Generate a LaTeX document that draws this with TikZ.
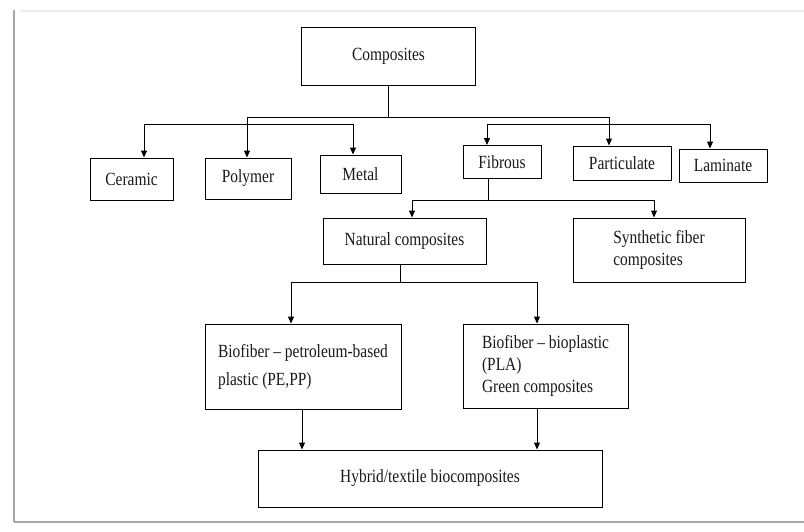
\documentclass[tikz,border=0pt]{standalone}
\usepackage{fontspec}
\setmainfont{Liberation Serif}[FakeStretch=0.83]
\usetikzlibrary{arrows.meta,calc}
\definecolor{txt}{rgb}{0.1,0.1,0.12}
\begin{document}
\begin{tikzpicture}[x=1pt,y=-1pt,
  box/.style={draw=black, line width=1pt, rectangle, inner sep=0pt, text=txt,
    font=\fontsize{18.6}{22}\selectfont},
  arr/.style={line width=1pt, -{Triangle[length=7pt,width=6pt]}},
  ln/.style={line width=1pt}]
\useasboundingbox (0,0) rectangle (804,531);
\fill[white] (0,0) rectangle (804,531);
% frame
\draw[gray!15, line width=1.5pt] (20,11) -- (804,11);
\draw[gray!70, line width=1.5pt] (14,10) -- (14,522);
\draw[gray!70, line width=2.5pt] (14,522) -- (804,522);
% nodes
\node[box, minimum width=174pt, minimum height=58pt] (comp) at (388.5,56) {Composites};
\node[box, minimum width=83pt, minimum height=42pt] (cer) at (131.5,179) {Ceramic};
\node[box, minimum width=86pt, minimum height=41pt] (poly) at (248,178.5) {Polymer};
\node[box, minimum width=81pt, minimum height=38pt] (metal) at (360.5,174) {Metal};
\node[box, minimum width=78pt, minimum height=33pt] (fib) at (502,162) {Fibrous};
\node[box, minimum width=98pt, minimum height=34pt] (part) at (622,163) {Particulate};
\node[box, minimum width=88pt, minimum height=33pt] (lam) at (723,165.5) {Laminate};
\node[box, minimum width=163pt, minimum height=46pt] (nat) at (404.5,241) {Natural composites};
\node[box, minimum width=172pt, minimum height=64pt, align=left] (syn) at (659,250) {Synthetic fiber\\composites};
\node[box, minimum width=196pt, minimum height=85pt, align=left,
  font=\fontsize{18.6}{28}\selectfont] (bio1) at (303,366.5) {Biofiber -- petroleum-based\\plastic (PE,PP)};
\node[box, minimum width=165pt, minimum height=84pt, align=left] (bio2) at (545.5,366) {Biofiber -- bioplastic\\(PLA)\\Green composites};
\node[box, minimum width=344pt, minimum height=57pt] (hyb) at (430,478.5) {Hybrid/textile biocomposites};
% connectors
\coordinate (j0) at (388.5,117);
\coordinate (gL) at (247,124);
\coordinate (gR) at (609,124);
\draw[ln] (comp.south) -- (j0);
\draw[arr] (j0) -| ([xshift=-1pt]poly.north);
\draw[arr] (j0) -| ([xshift=-13pt]part.north);
\draw[arr] (gL) -| ([xshift=12.5pt]cer.north);
\draw[arr] (gL) -| ([xshift=-7.5pt]metal.north);
\draw[arr] (gR) -| ([xshift=-15pt]fib.north);
\draw[arr] (gR) -| ([xshift=-13pt]lam.north);
\coordinate (jf) at (488,200);
\draw[ln] ([xshift=-14pt]fib.south) -- (jf);
\draw[arr] (jf) -| ([xshift=7.5pt]nat.north);
\draw[arr] (jf) -| ([xshift=-5pt]syn.north);
\coordinate (jn) at (400.5,282);
\draw[ln] ([xshift=-4pt]nat.south) -- (jn);
\draw[arr] (jn) -| ([xshift=-12pt]bio1.north);
\draw[arr] (jn) -| ([xshift=-8.5pt]bio2.north);
\draw[arr] ($(bio1.south)+(-1,0)$) -- ($(bio1.south |- hyb.north)+(-1,0)$);
\draw[arr] ($(bio2.south)+(-8.5,0)$) -- ($(bio2.south |- hyb.north)+(-8.5,0)$);
\end{tikzpicture}
\end{document}
